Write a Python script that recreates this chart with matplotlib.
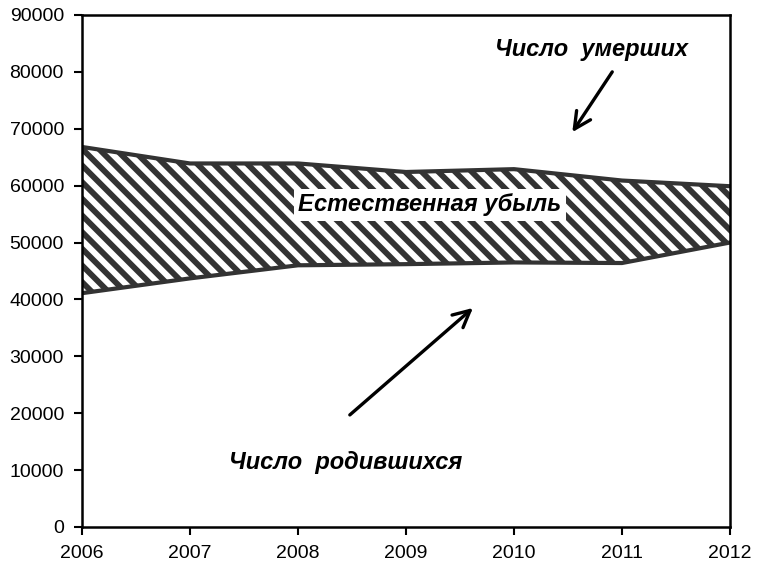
import numpy as np
import matplotlib
matplotlib.use('Agg')
import matplotlib.pyplot as plt

years = [2006, 2007, 2008, 2009, 2010, 2011, 2012]
deaths = [66800, 63900, 63900, 62400, 62900, 60900, 59900]
births = [41100, 43700, 46000, 46200, 46500, 46400, 50000]

plt.rcParams['font.family'] = ['Liberation Sans', 'DejaVu Sans']
plt.rcParams['hatch.linewidth'] = 4.2
plt.rcParams['hatch.color'] = '#333333'

fig = plt.figure(figsize=(7.57, 5.74), dpi=100)
ax = fig.add_axes([0.1083, 0.0819, 0.8560, 0.8920])

ax.fill_between(years, births, deaths, facecolor='white', hatch='\\\\',
                edgecolor='#333333', linewidth=0)
ax.plot(years, deaths, color='#333333', lw=3)
ax.plot(years, births, color='#333333', lw=3)

ax.set_xlim(2006, 2012)
ax.set_ylim(0, 90000)
ax.set_xticks(years)
ax.set_yticks(np.arange(0, 90001, 10000))
ax.tick_params(direction='out', length=6, width=1.5, labelsize=14, pad=7)
for s in ax.spines.values():
    s.set_linewidth(1.8)

txt = dict(fontsize=17, fontweight='bold', fontstyle='italic', ha='center', va='center')
ax.text(2009.22, 56600, 'Естественная убыль',
        bbox=dict(facecolor='white', edgecolor='none', pad=3), **txt)
ax.text(2010.72, 83850, 'Число  умерших', **txt)
ax.text(2008.44, 11250, 'Число  родившихся', **txt)

arrow = dict(arrowstyle='->', lw=2.4, color='black', mutation_scale=30, shrinkA=0, shrinkB=0)
ax.annotate('', xy=(2010.54, 69400), xytext=(2010.91, 80000), arrowprops=arrow)
ax.annotate('', xy=(2009.62, 38500), xytext=(2008.48, 19700), arrowprops=arrow)

fig.savefig('out.png', dpi=100)
